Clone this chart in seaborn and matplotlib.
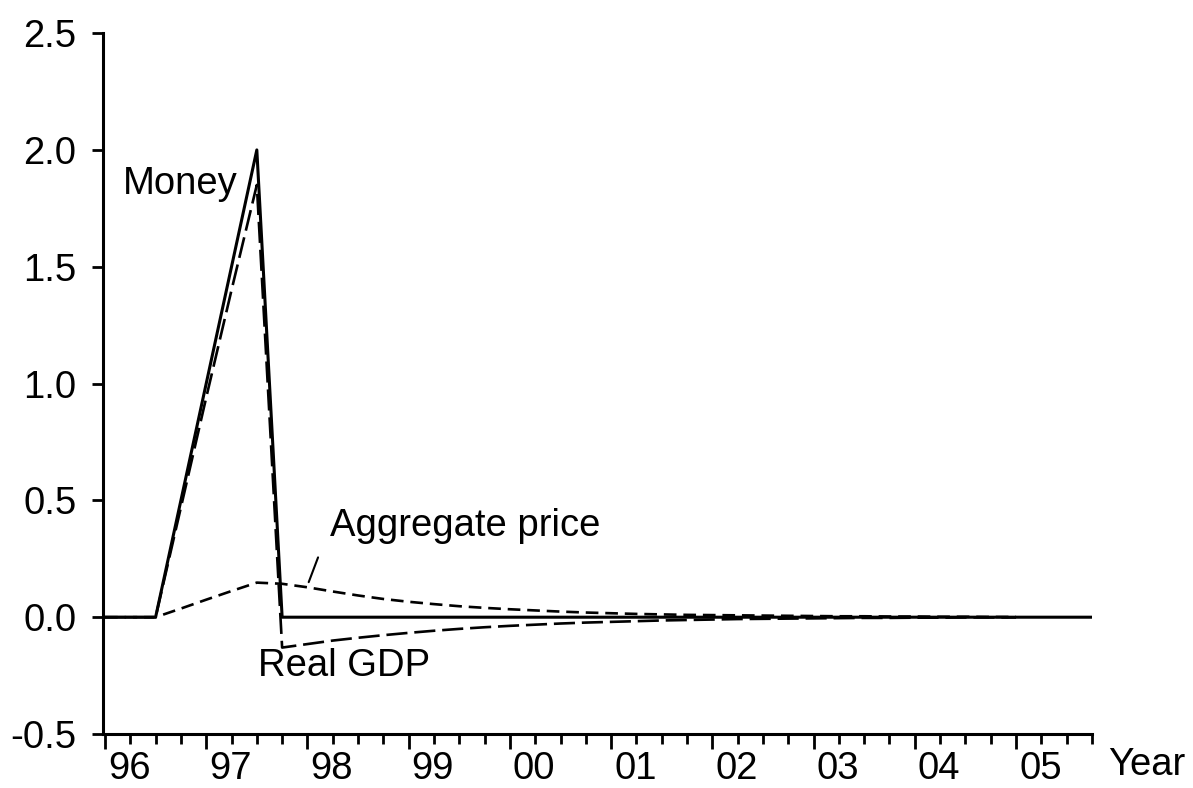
import numpy as np
import pandas as pd
import matplotlib
matplotlib.use("Agg")
import matplotlib.pyplot as plt
import matplotlib.transforms as mtransforms
import seaborn as sns

# quarterly index, 1996Q1 = 0
quarters = list(range(40))
year_labels = ['96', '97', '98', '99', '00', '01', '02', '03', '04', '05']
y_ticks = [-0.5, 0.0, 0.5, 1.0, 1.5, 2.0, 2.5]
y_tick_labels = ['-0.5', '0.0', '0.5', '1.0', '1.5', '2.0', '2.5']

money = [0.0, 0.0, 0.0, 0.5, 1.0, 1.5, 2.0, 0.0, 0.0, 0.0,
         0.0, 0.0, 0.0, 0.0, 0.0, 0.0, 0.0, 0.0, 0.0, 0.0,
         0.0, 0.0, 0.0, 0.0, 0.0, 0.0, 0.0, 0.0, 0.0, 0.0,
         0.0, 0.0, 0.0, 0.0, 0.0, 0.0, 0.0, 0.0, 0.0, 0.0]

real_gdp = [0.0, 0.0, 0.0, 0.47, 0.94, 1.40, 1.85, -0.13, -0.115, -0.100,
            -0.088, -0.077, -0.067, -0.058, -0.050, -0.043, -0.037, -0.032, -0.027, -0.023,
            -0.020, -0.017, -0.014, -0.012, -0.010, -0.008, -0.007, -0.006, -0.005, -0.004,
            -0.003, -0.003, -0.002, -0.002, -0.001, -0.001, -0.001]

agg_price = [0.0, 0.0, 0.0, 0.037, 0.075, 0.112, 0.148, 0.143, 0.128, 0.110,
             0.093, 0.078, 0.066, 0.056, 0.047, 0.040, 0.034, 0.029, 0.024, 0.020,
             0.017, 0.014, 0.012, 0.010, 0.009, 0.008, 0.007, 0.006, 0.005, 0.004,
             0.004, 0.003, 0.003, 0.002, 0.002, 0.001, 0.001]

sns.set_style('ticks')
plt.rcParams['font.family'] = ['Liberation Sans', 'DejaVu Sans']
plt.rcParams['axes.unicode_minus'] = False

FS = 27.5

fig = plt.figure(figsize=(11.93, 7.88), dpi=100)
ax = fig.add_axes([0.0863, 0.0685, 0.8290, 0.8895])

df_m = pd.DataFrame({'q': quarters, 'v': money})
df_g = pd.DataFrame({'q': quarters[:len(real_gdp)], 'v': real_gdp})
df_p = pd.DataFrame({'q': quarters[:len(agg_price)], 'v': agg_price})

sns.lineplot(data=df_p, x='q', y='v', ax=ax, color='black', linewidth=1.9)
sns.lineplot(data=df_g, x='q', y='v', ax=ax, color='black', linewidth=1.9)
sns.lineplot(data=df_m, x='q', y='v', ax=ax, color='black', linewidth=2.2)
lines = ax.get_lines()
lines[0].set_dashes((4.8, 2.6))
lines[1].set_dashes((8, 2.6))

ax.set_xlim(-0.08, 39)
ax.set_ylim(-0.5, 2.5)
ax.set_xlabel('')
ax.set_ylabel('')

ax.set_xticks(quarters[::4])
ax.set_xticklabels(year_labels)
ax.set_xticks(quarters, minor=True)
ax.set_yticks(y_ticks)
ax.set_yticklabels(y_tick_labels)

ax.tick_params(axis='x', which='major', direction='out', length=11, width=2,
               labelsize=FS, pad=1, colors='black')
ax.tick_params(axis='x', which='minor', direction='out', length=7, width=2,
               colors='black')
ax.tick_params(axis='y', which='major', direction='out', length=8, width=2,
               labelsize=FS, pad=11, colors='black')
shift = mtransforms.ScaledTranslation(3 / 100, 0, fig.dpi_scale_trans)
for lab in ax.get_xticklabels():
    lab.set_horizontalalignment('left')
    lab.set_transform(lab.get_transform() + shift)

sns.despine(ax=ax)
for side in ['left', 'bottom']:
    ax.spines[side].set_linewidth(2.2)
    ax.spines[side].set_color('black')

txt = dict(fontsize=FS, color='black', va='center', ha='left')
ax.text(0.7, 1.855, 'Money', **txt)
ax.text(8.9, 0.39, 'Aggregate price', **txt)
ax.text(6.05, -0.21, 'Real GDP', **txt)
ax.plot([8.05, 8.42], [0.15, 0.256], color='black', linewidth=1.5)
fig.text(1108 / 1193, 1 - 765 / 788, 'Year', fontsize=FS, color='black',
         va='center', ha='left')

fig.savefig('out.png', dpi=100)
